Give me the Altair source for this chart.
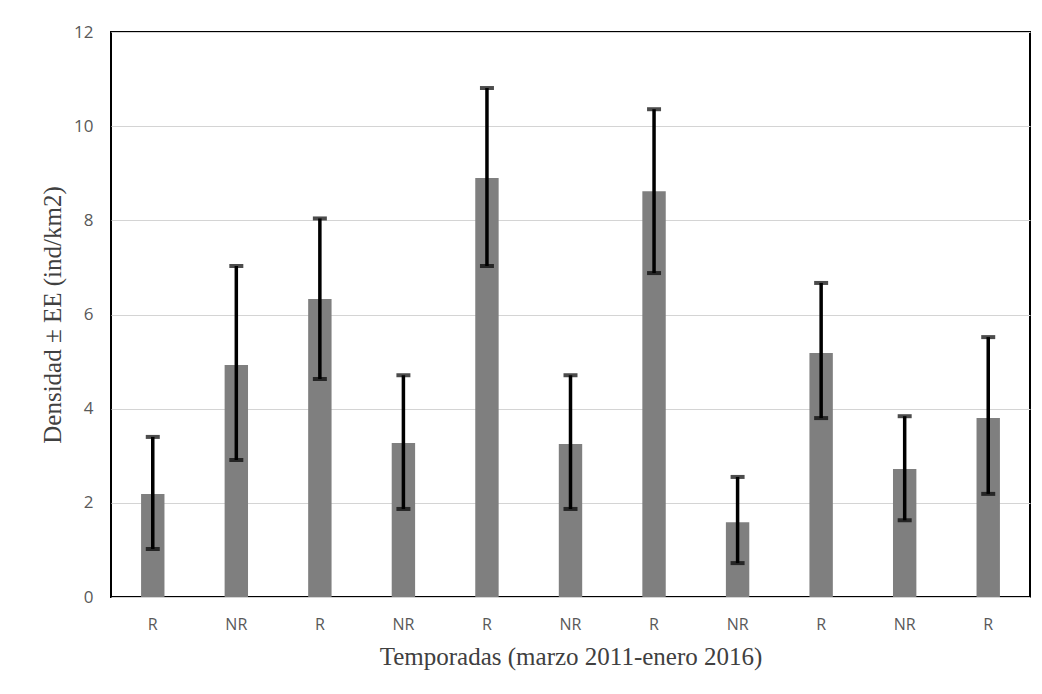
import altair as alt
import pandas as pd

labels = ["R", "NR", "R", "NR", "R", "NR", "R", "NR", "R", "NR", "R"]
density = [2.19, 4.93, 6.33, 3.27, 8.90, 3.25, 8.62, 1.59, 5.18, 2.72, 3.80]
err_low = [1.02, 2.91, 4.63, 1.87, 7.03, 1.87, 6.88, 0.72, 3.80, 1.63, 2.19]
err_high = [3.40, 7.03, 8.04, 4.71, 10.81, 4.71, 10.36, 2.55, 6.67, 3.84, 5.52]
y_ticks = [0, 2, 4, 6, 8, 10, 12]

df = pd.DataFrame({
    "pos": [str(i) for i in range(len(labels))],
    "label": labels,
    "density": density,
    "lo": err_low,
    "hi": err_high,
})

label_arr = "[" + ",".join("'" + l + "'" for l in labels) + "]"
order = list(df["pos"])

x_enc = alt.X(
    "pos:N",
    sort=order,
    scale=alt.Scale(paddingInner=0.72, paddingOuter=0.36),
    axis=alt.Axis(
        title="Temporadas (marzo 2011-enero 2016)",
        labelExpr=label_arr + "[toNumber(datum.value)]",
        labelAngle=0,
        ticks=False,
        domain=False,
        labelPadding=19,
        labelFont="Open Sans",
        labelFontSize=16,
        labelColor="#595959",
        titleFont="Liberation Serif",
        titleFontSize=25,
        titleFontWeight="normal",
        titleColor="#404040",
        titlePadding=12,
    ),
)

y_scale = alt.Scale(domain=[0, 12], nice=False)

bars = alt.Chart(df).mark_bar(color="#7f7f7f").encode(
    x=x_enc,
    y=alt.Y(
        "density:Q",
        scale=y_scale,
        axis=alt.Axis(
            title="Densidad ± EE (ind/km2)",
            values=y_ticks,
            ticks=False,
            domain=False,
            grid=True,
            gridColor="#d4d4d4",
            gridWidth=1,
            labelPadding=18,
            labelFont="Open Sans",
            labelFontSize=17,
            labelColor="#595959",
            titleFont="Liberation Serif",
            titleFontSize=25,
            titleFontWeight="normal",
            titleColor="#404040",
            titlePadding=8,
        ),
    ),
)

rules = alt.Chart(df).mark_rule(color="black", strokeWidth=3.5).encode(
    x=alt.X("pos:N", sort=order),
    y=alt.Y("lo:Q", scale=y_scale),
    y2="hi:Q",
)

caps_hi = alt.Chart(df).mark_tick(color="black", thickness=4, size=14, orient="horizontal").encode(
    x=alt.X("pos:N", sort=order),
    y=alt.Y("hi:Q", scale=y_scale),
)
caps_lo = alt.Chart(df).mark_tick(color="black", thickness=4, size=14, orient="horizontal").encode(
    x=alt.X("pos:N", sort=order),
    y=alt.Y("lo:Q", scale=y_scale),
)

chart = alt.layer(bars, rules, caps_hi, caps_lo).properties(
    width=919,
    height=565,
    padding={"left": 111, "top": 32, "right": 12, "bottom": 97},
    autosize=alt.AutoSizeParams(type="none"),
    background="white",
).configure_view(
    stroke="black",
    strokeWidth=2,
)

chart.save("out.html", embed_options={"renderer": "svg", "actions": False})
